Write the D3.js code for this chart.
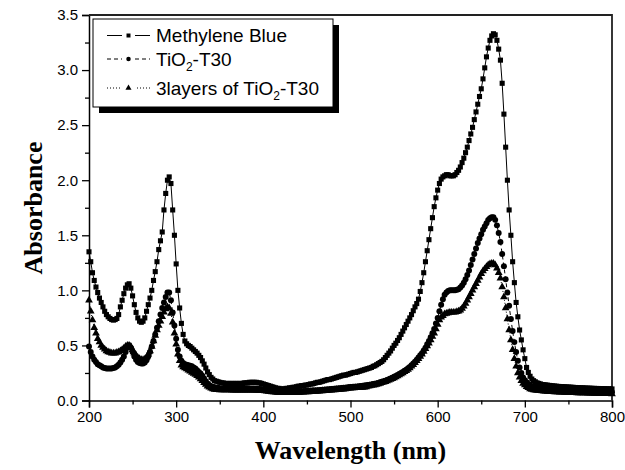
<html>
<head>
<meta charset="utf-8">
<script src="https://d3js.org/d3.v7.min.js"></script>
<style>
  body { margin: 0; background: #fff; }
</style>
</head>
<body>
<div id="chart"></div>
<script>
// wavelength grid, 2 nm step
const wavelength = d3.range(200, 801, 2);

// Methylene Blue
const methyleneBlue = [
  1.35,1.26,1.16,1.09,1.03,0.98,0.93,0.89,0.85,0.81,
  0.78,0.76,0.745,0.735,0.73,0.735,0.745,0.78,0.85,0.91,
  0.97,1.02,1.05,1.06,1.02,0.95,0.87,0.80,0.75,0.72,
  0.71,0.72,0.75,0.81,0.87,0.93,1.00,1.09,1.17,1.26,
  1.37,1.45,1.53,1.73,1.88,2.00,2.03,1.97,1.73,1.50,
  1.24,1.00,0.84,0.70,0.60,0.54,0.515,0.50,0.49,0.475,
  0.46,0.445,0.43,0.41,0.39,0.36,0.33,0.295,0.26,0.235,
  0.21,0.195,0.18,0.175,0.17,0.165,0.16,0.16,0.155,0.155,
  0.155,0.155,0.155,0.155,0.155,0.155,0.155,0.155,0.155,0.16,
  0.16,0.16,0.165,0.165,0.165,0.165,0.165,0.16,0.16,0.155,
  0.15,0.145,0.14,0.135,0.13,0.125,0.12,0.115,0.11,0.11,
  0.105,0.105,0.105,0.11,0.11,0.115,0.115,0.12,0.12,0.125,
  0.13,0.13,0.135,0.135,0.14,0.14,0.145,0.15,0.15,0.155,
  0.16,0.165,0.165,0.17,0.175,0.18,0.185,0.19,0.19,0.195,
  0.2,0.205,0.21,0.215,0.22,0.225,0.23,0.23,0.235,0.24,
  0.245,0.25,0.255,0.255,0.26,0.265,0.27,0.275,0.28,0.285,
  0.29,0.295,0.3,0.31,0.315,0.325,0.335,0.345,0.355,0.37,
  0.39,0.41,0.43,0.45,0.475,0.5,0.52,0.545,0.57,0.6,
  0.63,0.66,0.69,0.72,0.75,0.78,0.815,0.85,0.88,0.92,
  0.99,1.07,1.16,1.26,1.36,1.46,1.56,1.66,1.76,1.84,
  1.91,1.97,2.01,2.03,2.04,2.05,2.05,2.04,2.04,2.04,
  2.05,2.07,2.09,2.12,2.16,2.2,2.25,2.3,2.36,2.42,
  2.48,2.55,2.62,2.69,2.76,2.83,2.92,3.02,3.12,3.2,
  3.27,3.31,3.33,3.32,3.27,3.19,3.09,2.88,2.6,2.3,
  2.0,1.73,1.5,1.26,1.07,0.89,0.76,0.64,0.55,0.46,
  0.38,0.3,0.255,0.22,0.195,0.18,0.17,0.16,0.155,0.15,
  0.145,0.143,0.141,0.139,0.137,0.135,0.133,0.131,0.13,0.128,
  0.127,0.126,0.125,0.124,0.123,0.122,0.121,0.12,0.119,0.118,
  0.117,0.116,0.115,0.115,0.114,0.113,0.112,0.112,0.111,0.11,
  0.11,0.109,0.109,0.108,0.108,0.107,0.107,0.106,0.106,0.105,
  0.105
];

// TiO2-T30
const tio2 = [
  0.49,0.44,0.40,0.37,0.35,0.33,0.32,0.31,0.30,0.295,
  0.29,0.29,0.29,0.29,0.295,0.30,0.31,0.325,0.345,0.37,
  0.40,0.44,0.48,0.50,0.48,0.44,0.40,0.37,0.35,0.34,
  0.335,0.335,0.345,0.365,0.40,0.44,0.49,0.54,0.60,0.66,
  0.72,0.78,0.84,0.89,0.94,0.98,0.98,0.91,0.80,0.68,
  0.56,0.46,0.40,0.36,0.34,0.33,0.325,0.32,0.315,0.31,
  0.30,0.29,0.275,0.26,0.245,0.225,0.20,0.175,0.155,0.14,
  0.13,0.125,0.12,0.115,0.115,0.11,0.11,0.11,0.11,0.11,
  0.11,0.11,0.11,0.11,0.11,0.11,0.11,0.11,0.11,0.11,
  0.11,0.11,0.11,0.11,0.11,0.108,0.106,0.105,0.104,0.102,
  0.1,0.097,0.094,0.092,0.09,0.088,0.086,0.084,0.082,0.08,
  0.079,0.078,0.078,0.078,0.078,0.078,0.079,0.08,0.08,0.081,
  0.082,0.083,0.084,0.085,0.086,0.087,0.088,0.089,0.09,0.091,
  0.092,0.093,0.094,0.096,0.097,0.098,0.1,0.101,0.102,0.104,
  0.105,0.107,0.108,0.11,0.111,0.113,0.115,0.116,0.118,0.12,
  0.122,0.123,0.125,0.126,0.128,0.13,0.132,0.134,0.136,0.138,
  0.14,0.143,0.146,0.149,0.152,0.155,0.16,0.165,0.17,0.175,
  0.18,0.186,0.193,0.2,0.207,0.215,0.223,0.232,0.241,0.25,
  0.26,0.27,0.28,0.292,0.305,0.32,0.335,0.352,0.37,0.39,
  0.41,0.43,0.455,0.48,0.51,0.54,0.575,0.61,0.65,0.70,
  0.75,0.81,0.87,0.92,0.96,0.98,0.995,1.0,1.0,1.0,
  1.0,1.005,1.01,1.025,1.045,1.07,1.1,1.14,1.18,1.23,
  1.28,1.33,1.38,1.43,1.47,1.51,1.55,1.58,1.61,1.64,
  1.655,1.665,1.665,1.64,1.59,1.52,1.44,1.33,1.22,1.1,
  0.98,0.86,0.74,0.63,0.53,0.44,0.36,0.3,0.25,0.21,
  0.185,0.165,0.15,0.14,0.13,0.125,0.12,0.115,0.11,0.108,
  0.105,0.103,0.101,0.1,0.098,0.097,0.096,0.095,0.094,0.093,
  0.092,0.091,0.09,0.089,0.089,0.088,0.087,0.087,0.086,0.085,
  0.085,0.084,0.084,0.083,0.083,0.082,0.082,0.081,0.081,0.08,
  0.08,0.08,0.079,0.079,0.078,0.078,0.077,0.077,0.076,0.076,
  0.075
];

// 3 layers of TiO2-T30
const threeLayers = [
  0.91,0.81,0.73,0.66,0.61,0.56,0.53,0.50,0.48,0.465,
  0.45,0.44,0.435,0.43,0.43,0.43,0.435,0.44,0.45,0.46,
  0.475,0.49,0.50,0.50,0.49,0.46,0.43,0.41,0.39,0.38,
  0.37,0.37,0.375,0.39,0.42,0.45,0.49,0.54,0.59,0.64,
  0.68,0.72,0.76,0.80,0.83,0.85,0.84,0.79,0.71,0.61,
  0.51,0.42,0.36,0.32,0.305,0.295,0.285,0.275,0.265,0.255,
  0.245,0.235,0.225,0.21,0.195,0.18,0.16,0.145,0.13,0.12,
  0.11,0.105,0.1,0.098,0.097,0.096,0.095,0.095,0.095,0.095,
  0.095,0.095,0.094,0.094,0.094,0.093,0.093,0.093,0.093,0.093,
  0.093,0.093,0.093,0.093,0.092,0.092,0.091,0.09,0.09,0.089,
  0.088,0.086,0.084,0.082,0.08,0.078,0.076,0.075,0.073,0.072,
  0.071,0.07,0.07,0.07,0.07,0.07,0.07,0.071,0.071,0.072,
  0.072,0.073,0.074,0.075,0.076,0.077,0.078,0.079,0.08,0.081,
  0.082,0.083,0.084,0.085,0.086,0.088,0.089,0.09,0.092,0.093,
  0.095,0.096,0.098,0.099,0.1,0.102,0.103,0.105,0.107,0.11,
  0.112,0.113,0.114,0.115,0.116,0.117,0.118,0.119,0.12,0.122,
  0.13,0.132,0.135,0.138,0.141,0.145,0.15,0.155,0.16,0.165,
  0.17,0.176,0.183,0.19,0.197,0.205,0.213,0.222,0.231,0.24,
  0.25,0.26,0.27,0.282,0.295,0.31,0.325,0.342,0.36,0.38,
  0.40,0.42,0.445,0.47,0.495,0.52,0.55,0.58,0.61,0.65,
  0.69,0.73,0.755,0.77,0.785,0.79,0.795,0.80,0.80,0.80,
  0.80,0.805,0.81,0.82,0.835,0.855,0.88,0.91,0.94,0.97,
  1.0,1.03,1.06,1.09,1.12,1.15,1.175,1.195,1.215,1.23,
  1.24,1.245,1.245,1.23,1.2,1.16,1.11,1.03,0.94,0.84,
  0.74,0.64,0.55,0.46,0.38,0.31,0.25,0.21,0.18,0.155,
  0.14,0.125,0.115,0.105,0.1,0.095,0.093,0.091,0.09,0.088,
  0.085,0.084,0.083,0.082,0.081,0.08,0.079,0.078,0.077,0.076,
  0.075,0.075,0.074,0.073,0.073,0.072,0.071,0.071,0.07,0.07,
  0.069,0.069,0.068,0.068,0.067,0.067,0.066,0.066,0.065,0.065,
  0.064,0.064,0.064,0.063,0.063,0.062,0.062,0.061,0.061,0.061,
  0.06
];

const seriesNames = ["Methylene Blue", "TiO2-T30", "3layers of TiO2-T30"];
const xTicks = [200, 300, 400, 500, 600, 700, 800];
const yTicks = [0, 0.5, 1, 1.5, 2, 2.5, 3, 3.5];

const width = 625, height = 470;
const margin = {top: 15, right: 13, bottom: 69.5, left: 89};
const w = width - margin.left - margin.right;
const h = height - margin.top - margin.bottom;

const svg = d3.select('#chart').append('svg')
    .attr('width', width)
    .attr('height', height);

const g = svg.append('g')
    .attr('transform', `translate(${margin.left},${margin.top})`);

const x = d3.scaleLinear().domain([200, 800]).range([0, w]);
const y = d3.scaleLinear().domain([0, 3.5]).range([h, 0]);

// axes
g.append('g')
    .attr('transform', `translate(0,${h})`)
    .call(d3.axisBottom(x).tickValues(xTicks).tickSize(7).tickPadding(4));
g.append('g')
    .attr('transform', `translate(0,${h})`)
    .call(d3.axisBottom(x).tickValues(d3.range(250, 800, 100)).tickSize(4).tickFormat(''))
    .call(a => a.select('.domain').remove());
g.append('g')
    .call(d3.axisLeft(y).tickValues(yTicks).tickSize(7).tickPadding(4).tickFormat(d3.format('.1f')));
g.append('g')
    .call(d3.axisLeft(y).tickValues(d3.range(0.25, 3.5, 0.5)).tickSize(4).tickFormat(''))
    .call(a => a.select('.domain').remove());

g.selectAll('.tick line').attr('stroke', '#000').attr('stroke-width', 1.3);
g.selectAll('.domain').attr('stroke', '#000').attr('stroke-width', 1.5);
g.selectAll('.tick text')
    .attr('fill', '#000')
    .style('font-family', '"Liberation Sans", Arial, sans-serif')
    .style('font-size', '15px');

// top and right frame
g.append('path')
    .attr('d', `M0,0H${w}V${h}`)
    .attr('fill', 'none')
    .attr('stroke', '#222')
    .attr('stroke-width', 1.8);

// axis titles
svg.append('text')
    .attr('x', margin.left + w / 2)
    .attr('y', 459)
    .attr('text-anchor', 'middle')
    .style('font-family', '"Liberation Serif", "Times New Roman", serif')
    .style('font-weight', 'bold')
    .style('font-size', '26px')
    .text('Wavelength (nm)');

svg.append('text')
    .attr('transform', 'translate(42,208) rotate(-90)')
    .attr('text-anchor', 'middle')
    .style('font-family', '"Liberation Serif", "Times New Roman", serif')
    .style('font-weight', 'bold')
    .style('font-size', '26px')
    .text('Absorbance');

// series
const series = [
  {values: methyleneBlue, symbol: d3.symbolSquare, size: 26, dash: null},
  {values: tio2, symbol: d3.symbolCircle, size: 28, dash: '4,3'},
  {values: threeLayers, symbol: d3.symbolTriangle, size: 26, dash: '1,2'}
];

const line = d3.line()
    .x((d, i) => x(wavelength[i]))
    .y(d => y(d));

series.forEach(s => {
  g.append('path')
      .datum(s.values)
      .attr('d', line)
      .attr('fill', 'none')
      .attr('stroke', '#000')
      .attr('stroke-width', 1)
      .attr('stroke-dasharray', s.dash);
  g.append('g').selectAll('path')
      .data(s.values)
      .join('path')
      .attr('transform', (d, i) => `translate(${x(wavelength[i])},${y(d)})`)
      .attr('d', d3.symbol(s.symbol, s.size))
      .attr('fill', '#000');
});

// legend with drop shadow
const lg = svg.append('g').attr('transform', 'translate(93,19)');
lg.append('rect')
    .attr('x', 6).attr('y', 6)
    .attr('width', 240).attr('height', 88)
    .attr('fill', '#000');
lg.append('rect')
    .attr('x', 0).attr('y', 0)
    .attr('width', 240).attr('height', 88)
    .attr('fill', '#fff')
    .attr('stroke', '#000')
    .attr('stroke-width', 1);

const rowsY = [16.5, 40, 69];
series.forEach((s, i) => {
  const ry = rowsY[i];
  lg.append('line')
      .attr('x1', 14).attr('x2', 57)
      .attr('y1', ry).attr('y2', ry)
      .attr('stroke', '#000')
      .attr('stroke-width', 1)
      .attr('stroke-dasharray', s.dash);
  lg.append('rect')
      .attr('x', 29).attr('y', ry - 4)
      .attr('width', 13).attr('height', 8)
      .attr('fill', '#fff');
  lg.append('path')
      .attr('transform', `translate(35.5,${ry})`)
      .attr('d', d3.symbol(s.symbol, 16))
      .attr('fill', '#000');
  const t = lg.append('text')
      .attr('x', 63)
      .attr('y', ry + 6.5)
      .style('font-family', '"Liberation Sans", Arial, sans-serif')
      .style('font-size', '19px');
  const name = seriesNames[i];
  const k = name.indexOf('TiO2');
  if (k < 0) {
    t.text(name);
  } else {
    t.append('tspan').text(name.slice(0, k) + 'TiO');
    t.append('tspan').attr('dy', 5).style('font-size', '12px').text('2');
    t.append('tspan').attr('dy', -5).text(name.slice(k + 4));
  }
});
</script>
</body>
</html>
